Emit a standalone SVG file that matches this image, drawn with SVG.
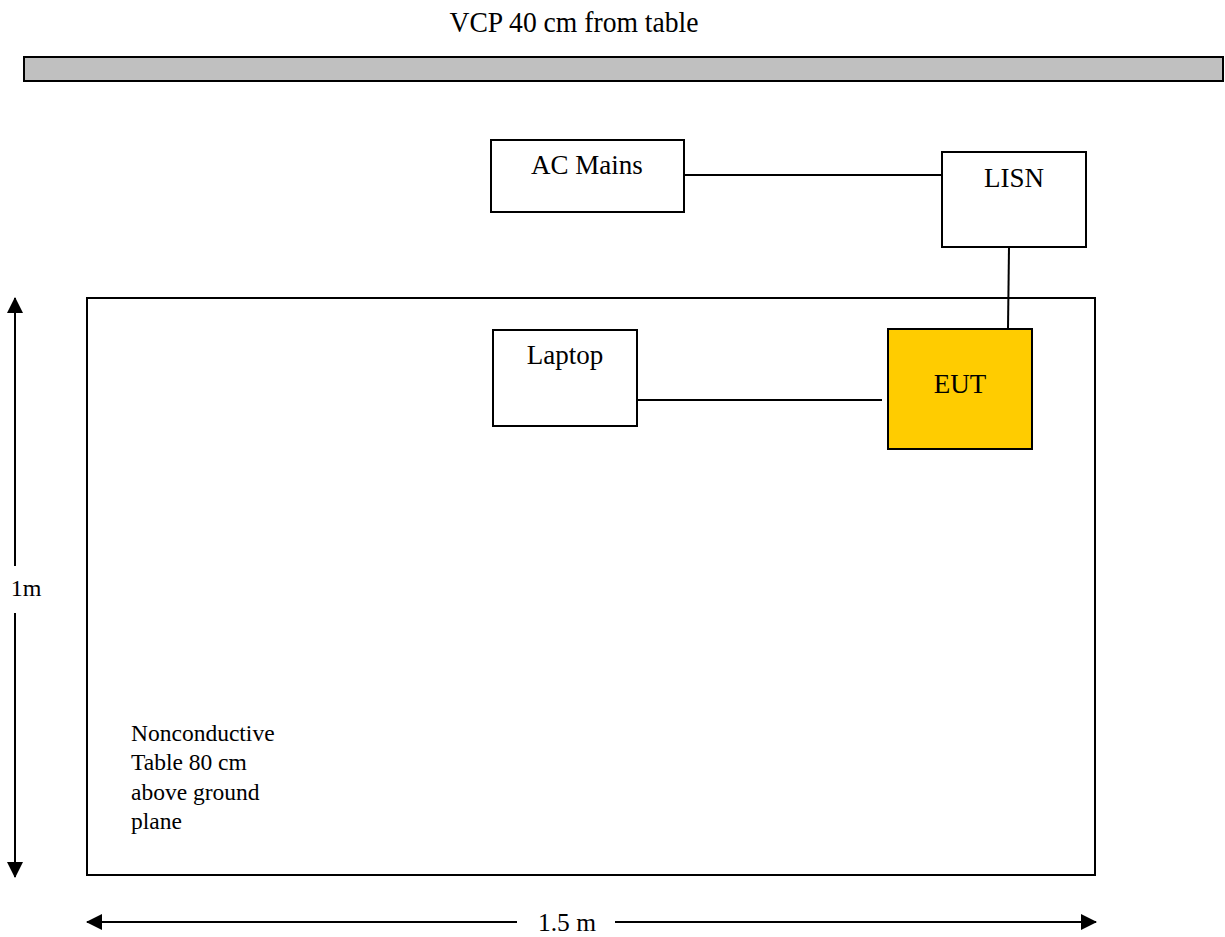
<svg xmlns="http://www.w3.org/2000/svg" width="1225" height="937" viewBox="0 0 1225 937">
<style>
text{font-family:"Liberation Serif","Times New Roman",serif;fill:#000}
.box{fill:#fff;stroke:#000;stroke-width:2}
.ln{stroke:#000;stroke-width:2;fill:none}
.lbl{font-size:27px;text-anchor:middle}
.note{font-size:23.5px}
</style>
<defs>
<marker id="ah" markerWidth="16" markerHeight="16" refX="15" refY="8" orient="auto-start-reverse" markerUnits="userSpaceOnUse">
<path d="M0,0 L16,8 L0,16 Z" fill="#000"/>
</marker>
</defs>
<rect width="1225" height="937" fill="#fff"/>
<text x="574" y="32" font-size="29" text-anchor="middle" textLength="249" lengthAdjust="spacingAndGlyphs">VCP 40 cm from table</text>
<rect x="24" y="57" width="1199" height="24" fill="#c0c0c0" stroke="#000" stroke-width="2"/>
<g id="table"><rect class="box" x="87" y="298" width="1008" height="577"/>
<text class="note" x="131" y="741">Nonconductive</text>
<text class="note" x="131" y="770">Table 80 cm</text>
<text class="note" x="131" y="800">above ground</text>
<text class="note" x="131" y="829">plane</text></g>
<g id="connectors">
<line class="ln" x1="681" y1="175" x2="946" y2="175"/>
<line class="ln" x1="1009" y1="247" x2="1008" y2="329"/>
<line class="ln" x1="637" y1="400" x2="882" y2="400"/>
<line class="ln" x1="15" y1="566" x2="15" y2="298" marker-end="url(#ah)"/>
<line class="ln" x1="15" y1="613" x2="15" y2="877" marker-end="url(#ah)"/>
<line class="ln" x1="517" y1="922" x2="87" y2="922" marker-end="url(#ah)"/>
<line class="ln" x1="615" y1="922" x2="1096" y2="922" marker-end="url(#ah)"/>
</g>
<g id="acmains"><rect class="box" x="491" y="140" width="193" height="72"/><text class="lbl" x="587" y="174">AC Mains</text></g>
<g id="lisn"><rect class="box" x="942" y="152" width="144" height="95"/><text class="lbl" x="1014" y="187">LISN</text></g>
<g id="laptop"><rect class="box" x="493" y="330" width="144" height="96"/><text class="lbl" x="565" y="364">Laptop</text></g>
<g id="eut"><rect x="888" y="329" width="144" height="120" fill="#ffcc00" stroke="#000" stroke-width="2"/><text class="lbl" x="960" y="393">EUT</text></g>
<text x="26" y="596" font-size="24" text-anchor="middle">1m</text>
<text x="567" y="931" font-size="25" text-anchor="middle" textLength="58" lengthAdjust="spacingAndGlyphs">1.5 m</text>
</svg>
